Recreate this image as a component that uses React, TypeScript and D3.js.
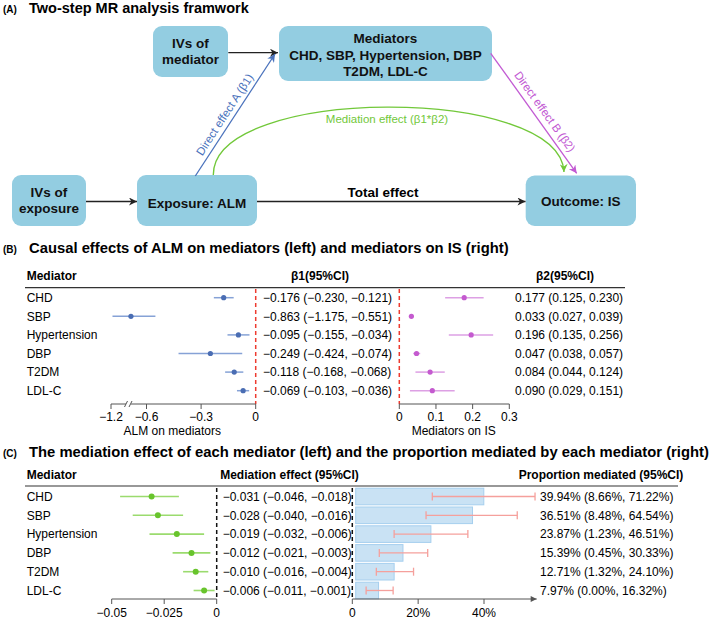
import React from "react";
import * as d3 from "d3";

// ---------- data ----------
const mediators = ["CHD", "SBP", "Hypertension", "DBP", "T2DM", "LDL-C"];
const beta1 = [-0.176, -0.863, -0.095, -0.249, -0.118, -0.069];
const beta1Lo = [-0.23, -1.175, -0.155, -0.424, -0.168, -0.103];
const beta1Hi = [-0.121, -0.551, -0.034, -0.074, -0.068, -0.036];
const beta2 = [0.177, 0.033, 0.196, 0.047, 0.084, 0.09];
const beta2Lo = [0.125, 0.027, 0.135, 0.038, 0.044, 0.029];
const beta2Hi = [0.23, 0.039, 0.256, 0.057, 0.124, 0.151];
const medEff = [-0.031, -0.028, -0.019, -0.012, -0.01, -0.006];
const medLo = [-0.046, -0.04, -0.032, -0.021, -0.016, -0.011];
const medHi = [-0.018, -0.016, -0.006, -0.003, -0.004, -0.001];
const propMed = [39.94, 36.51, 23.87, 15.39, 12.71, 7.97];
const propLo = [8.66, 8.48, 1.23, 0.45, 1.32, 0.0];
const propHi = [71.22, 64.54, 46.51, 30.33, 24.1, 16.32];
// whisker extents as drawn in the figure
const propWhiskLo = [24.3, 22.4, 12.7, 8.2, 7.3, 4.2];
const propWhiskHi = [55.5, 50.1, 35.1, 22.9, 18.6, 12.4];

const beta1Ticks = [-1.2, -0.6, -0.3, 0];
const beta1TickLabels = ["\u22121.2", "\u22120.6", "\u22120.3", "0"];
const beta2Ticks = [0, 0.1, 0.2, 0.3];
const beta2TickLabels = ["0", "0.1", "0.2", "0.3"];
const medTicks = [-0.05, -0.025, 0];
const medTickLabels = ["\u22120.05", "\u22120.025", "0"];
const propTicks = [0, 20, 40];
const propTickLabels = ["0", "20%", "40%"];

const FONT = "'Liberation Sans', Arial, Helvetica, sans-serif";
const BOX = "#93CDE1";
const BLUE = "#4A72BC";
const PURPLE = "#C25AD3";
const GREEN = "#72C83A";

const f3 = d3.format(".3f");
const pct = (v: number) => v.toFixed(2) + "%";

function Box({ x, y, w, h, lines, cy }: { x: number; y: number; w: number; h: number; lines: string[]; cy: number[] }) {
  return (
    <g>
      <rect x={x} y={y} width={w} height={h} rx={9} fill={BOX} />
      {lines.map((l, i) => (
        <text key={i} x={x + w / 2} y={cy[i]} dy="0.36em" textAnchor="middle" fontWeight="bold" fontSize={13.5} fill="#111">
          {l}
        </text>
      ))}
    </g>
  );
}

export default function App() {
  const W = 709;
  const H = 620;

  const xB1 = d3.scaleLinear().domain([-1.2, -0.6, 0]).range([111, 146.5, 255.7]);
  const xB2 = d3.scaleLinear().domain([0, 0.3]).range([399.3, 509.3]);
  const yB = d3.scalePoint<string>().domain(mediators).range([297.7, 390.7]);
  const xC1 = d3.scaleLinear().domain([-0.05, 0]).range([111.7, 216.7]);
  const xC2 = d3.scaleLinear().domain([0, 40]).range([352.3, 484]);
  const yC = d3.scalePoint<string>().domain(mediators).range([496.5, 590.5]);

  const axB = 404;
  const axC = 599;
  const axisCol = "#555";

  // green mediation curve
  const curve = d3.path();
  curve.moveTo(213.3, 175);
  curve.bezierCurveTo(213, 85, 560, 85, 564, 172);

  return (
    <svg width={W} height={H} style={{ position: "absolute", left: 0, top: 0 }} fontFamily={FONT}>
      <defs>
        <marker id="arrBlack" viewBox="0 0 10 10" refX={10} refY={5} markerWidth={10} markerHeight={8} markerUnits="userSpaceOnUse" orient="auto">
          <path d="M0,0 L10,5 L0,10 L3,5 z" fill="#222" />
        </marker>
        <marker id="arrBlue" viewBox="0 0 10 10" refX={10} refY={5} markerWidth={10} markerHeight={8} markerUnits="userSpaceOnUse" orient="auto">
          <path d="M0,0 L10,5 L0,10 L3,5 z" fill={BLUE} />
        </marker>
        <marker id="arrPurple" viewBox="0 0 10 10" refX={10} refY={5} markerWidth={10} markerHeight={8} markerUnits="userSpaceOnUse" orient="auto">
          <path d="M0,0 L10,5 L0,10 L3,5 z" fill={PURPLE} />
        </marker>
        <marker id="arrGreen" viewBox="0 0 10 10" refX={10} refY={5} markerWidth={10} markerHeight={8} markerUnits="userSpaceOnUse" orient="auto">
          <path d="M0,0 L10,5 L0,10 L3,5 z" fill={GREEN} />
        </marker>
        <marker id="arrAxis" viewBox="0 0 10 10" refX={10} refY={5} markerWidth={8} markerHeight={6} markerUnits="userSpaceOnUse" orient="auto">
          <path d="M0,0 L10,5 L0,10 z" fill={axisCol} />
        </marker>
      </defs>

      {/* ---------------- Panel A ---------------- */}
      <text x={3} y={13} fontSize={10} fontWeight="bold">(A)</text>
      <text x={29} y={13} fontSize={14.5} fontWeight="bold">Two-step MR analysis framwork</text>

      <Box x={153} y={26} w={75} h={51} lines={["IVs of", "mediator"]} cy={[43, 59.5]} />
      <Box x={279} y={26} w={213} h={55} lines={["Mediators", "CHD, SBP, Hypertension, DBP", "T2DM, LDL-C"]} cy={[38.5, 55, 71.5]} />
      <Box x={12} y={175} w={74} h={51} lines={["IVs of", "exposure"]} cy={[192, 208.5]} />
      <Box x={137} y={175} w={120} h={51} lines={["Exposure: ALM"]} cy={[203]} />
      <Box x={525.7} y={175.5} w={110.3} h={50.5} lines={["Outcome: IS"]} cy={[201]} />

      <line x1={228.3} y1={52.7} x2={278} y2={52.7} stroke="#222" strokeWidth={1.3} markerEnd="url(#arrBlack)" />
      <line x1={86} y1={201.5} x2={137} y2={201.5} stroke="#222" strokeWidth={1.3} markerEnd="url(#arrBlack)" />
      <line x1={257} y1={201.5} x2={525.5} y2={201.5} stroke="#222" strokeWidth={1.3} markerEnd="url(#arrBlack)" />
      <text x={383} y={192} dy="0.36em" textAnchor="middle" fontSize={13.5} fontWeight="bold">Total effect</text>

      <line x1={195.3} y1={176} x2={275} y2={54} stroke={BLUE} strokeWidth={1.3} markerEnd="url(#arrBlue)" />
      <text transform="translate(224.5,114.5) rotate(-57)" textAnchor="middle" dy="0.36em" fontSize={11.5} fill={BLUE}>
        Direct effect A (β1)
      </text>

      <line x1={490.7} y1={53.3} x2={576.7} y2={173.3} stroke={PURPLE} strokeWidth={1.3} markerEnd="url(#arrPurple)" />
      <text transform="translate(545,111.5) rotate(54.4)" textAnchor="middle" dy="0.36em" fontSize={11.5} fill={PURPLE}>
        Direct effect B (β2)
      </text>

      <path d={curve.toString()} fill="none" stroke={GREEN} strokeWidth={1.4} markerEnd="url(#arrGreen)" />
      <text x={387} y={119} dy="0.36em" textAnchor="middle" fontSize={11.5} fill={GREEN}>
        Mediation effect (β1*β2)
      </text>

      {/* ---------------- Panel B ---------------- */}
      <text x={3} y={253} fontSize={10} fontWeight="bold">(B)</text>
      <text x={29} y={253} fontSize={14.8} fontWeight="bold">
        Causal effects of ALM on mediators (left) and mediators on IS (right)
      </text>
      <text x={26.7} y={276} dy="0.36em" fontSize={12} fontWeight="bold">Mediator</text>
      <text x={320} y={276} dy="0.36em" fontSize={12} fontWeight="bold" textAnchor="middle">β1(95%CI)</text>
      <text x={565} y={276} dy="0.36em" fontSize={12} fontWeight="bold" textAnchor="middle">β2(95%CI)</text>
      <line x1={25} x2={625} y1={287.7} y2={287.7} stroke="#333" strokeWidth={1.2} />

      <line x1={xB1(0)} x2={xB1(0)} y1={289} y2={axB} stroke="#EE3B2F" strokeWidth={1.5} strokeDasharray="4,3" />
      <line x1={xB2(0)} x2={xB2(0)} y1={289} y2={axB} stroke="#EE3B2F" strokeWidth={1.5} strokeDasharray="4,3" />

      {mediators.map((m, i) => {
        const y = yB(m)!;
        return (
          <g key={m}>
            <text x={26.7} y={y} dy="0.36em" fontSize={12}>{m}</text>
            <line x1={xB1(beta1Lo[i])} x2={xB1(beta1Hi[i])} y1={y} y2={y} stroke="#86A2D6" strokeWidth={1.5} />
            <circle cx={xB1(beta1[i])} cy={y} r={2.6} fill="#4A6DB3" />
            <text x={263} y={y} dy="0.36em" fontSize={12}>
              {`${f3(beta1[i])} (${f3(beta1Lo[i])}, ${f3(beta1Hi[i])})`}
            </text>
            <line x1={xB2(beta2Lo[i])} x2={xB2(beta2Hi[i])} y1={y} y2={y} stroke="#DDA0E4" strokeWidth={1.5} />
            <circle cx={xB2(beta2[i])} cy={y} r={2.6} fill="#C45ACF" />
            <text x={515} y={y} dy="0.36em" fontSize={12}>
              {`${f3(beta2[i])} (${f3(beta2Lo[i])}, ${f3(beta2Hi[i])})`}
            </text>
          </g>
        );
      })}

      {/* B left axis */}
      <line x1={xB1(-1.2)} x2={xB1(0)} y1={axB} y2={axB} stroke={axisCol} strokeWidth={1} />
      {beta1Ticks.map((t, i) => (
        <g key={t}>
          <line x1={xB1(t)} x2={xB1(t)} y1={axB} y2={axB + 5} stroke={axisCol} />
          <text x={xB1(t)} y={axB + 13} dy="0.36em" fontSize={12} textAnchor="middle">{beta1TickLabels[i]}</text>
        </g>
      ))}
      <rect x={126} y={axB - 3} width={5} height={6} fill="#fff" />
      <line x1={124.5} y1={axB + 3} x2={127.5} y2={axB - 3} stroke={axisCol} />
      <line x1={129} y1={axB + 3} x2={132} y2={axB - 3} stroke={axisCol} />
      <text x={172.3} y={431} dy="0.36em" fontSize={12} textAnchor="middle">ALM on mediators</text>

      {/* B right axis */}
      <line x1={xB2(0)} x2={xB2(0.3)} y1={axB} y2={axB} stroke={axisCol} strokeWidth={1} />
      {beta2Ticks.map((t, i) => (
        <g key={t}>
          <line x1={xB2(t)} x2={xB2(t)} y1={axB} y2={axB + 5} stroke={axisCol} />
          <text x={xB2(t)} y={axB + 13} dy="0.36em" fontSize={12} textAnchor="middle">{beta2TickLabels[i]}</text>
        </g>
      ))}
      <text x={453.7} y={431} dy="0.36em" fontSize={12} textAnchor="middle">Mediators on IS</text>

      {/* ---------------- Panel C ---------------- */}
      <text x={3} y={457} fontSize={10} fontWeight="bold">(C)</text>
      <text x={29} y={457} fontSize={14.8} fontWeight="bold">
        The mediation effect of each mediator (left) and the proportion mediated by each mediator (right)
      </text>
      <text x={26.7} y={475} dy="0.36em" fontSize={12} fontWeight="bold">Mediator</text>
      <text x={289.5} y={475} dy="0.36em" fontSize={12} fontWeight="bold" textAnchor="middle">Mediation effect (95%CI)</text>
      <text x={601} y={475} dy="0.36em" fontSize={12} fontWeight="bold" textAnchor="middle">Proportion mediated (95%CI)</text>
      <line x1={25} x2={678} y1={486} y2={486} stroke="#333" strokeWidth={1.2} />

      {mediators.map((m, i) => {
        const y = yC(m)!;
        return (
          <g key={m}>
            <rect x={xC2(0) + 3.4} y={y - 8.3} width={xC2(propMed[i]) - xC2(0) - 3.4} height={16.6} fill="#C9E2F4" stroke="#A6CFEE" strokeWidth={1} />
          </g>
        );
      })}

      <line x1={xC1(0)} x2={xC1(0)} y1={488} y2={axC} stroke="#111" strokeWidth={1.5} strokeDasharray="4,3" />
      <line x1={xC2(0)} x2={xC2(0)} y1={488} y2={axC} stroke="#111" strokeWidth={1.5} strokeDasharray="4,3" />

      {mediators.map((m, i) => {
        const y = yC(m)!;
        return (
          <g key={m}>
            <text x={26.7} y={y} dy="0.36em" fontSize={12}>{m}</text>
            <line x1={xC1(medLo[i])} x2={xC1(medHi[i])} y1={y} y2={y} stroke="#9BDB6E" strokeWidth={1.6} />
            <circle cx={xC1(medEff[i])} cy={y} r={3} fill="#68C42C" />
            <text x={222.7} y={y} dy="0.36em" fontSize={12}>
              {`${f3(medEff[i])} (${f3(medLo[i])}, ${f3(medHi[i])})`}
            </text>
            <line x1={xC2(propWhiskLo[i])} x2={xC2(propWhiskHi[i])} y1={y} y2={y} stroke="#F5A09C" strokeWidth={1.3} />
            <line x1={xC2(propWhiskLo[i])} x2={xC2(propWhiskLo[i])} y1={y - 4} y2={y + 4} stroke="#F5A09C" strokeWidth={1.3} />
            <line x1={xC2(propWhiskHi[i])} x2={xC2(propWhiskHi[i])} y1={y - 4} y2={y + 4} stroke="#F5A09C" strokeWidth={1.3} />
            <text x={540} y={y} dy="0.36em" fontSize={12}>
              {`${pct(propMed[i])} (${pct(propLo[i])}, ${pct(propHi[i])})`}
            </text>
          </g>
        );
      })}

      {/* C left axis */}
      <line x1={xC1(-0.05)} x2={xC1(0)} y1={axC} y2={axC} stroke={axisCol} strokeWidth={1} />
      {medTicks.map((t, i) => (
        <g key={t}>
          <line x1={xC1(t)} x2={xC1(t)} y1={axC} y2={axC + 5} stroke={axisCol} />
          <text x={xC1(t)} y={axC + 14} dy="0.36em" fontSize={12} textAnchor="middle">{medTickLabels[i]}</text>
        </g>
      ))}
      {/* C right axis */}
      <line x1={xC2(0)} x2={xC2(56)} y1={axC} y2={axC} stroke={axisCol} strokeWidth={1} markerEnd="url(#arrAxis)" />
      {propTicks.map((t, i) => (
        <g key={t}>
          <line x1={xC2(t)} x2={xC2(t)} y1={axC} y2={axC + 5} stroke={axisCol} />
          <text x={xC2(t)} y={axC + 14} dy="0.36em" fontSize={12} textAnchor="middle">{propTickLabels[i]}</text>
        </g>
      ))}
    </svg>
  );
}
